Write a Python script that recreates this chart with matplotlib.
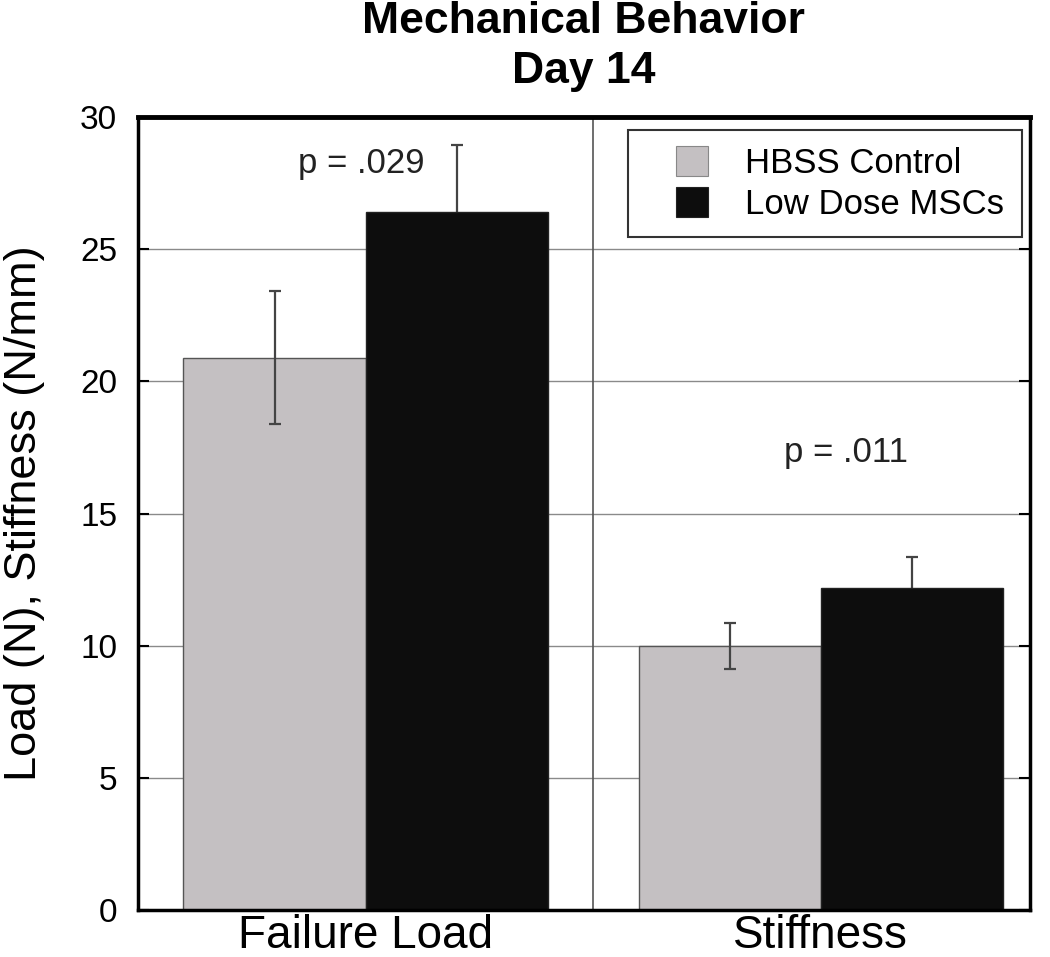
import numpy as np
import matplotlib
matplotlib.use("Agg")
import matplotlib.pyplot as plt
from matplotlib.patches import Patch, Rectangle

plt.rcParams['font.family'] = ['Liberation Sans', 'DejaVu Sans']

# data
categories = ['Failure Load', 'Stiffness']
groups = ['HBSS Control', 'Low Dose MSCs']
control_mean = [20.9, 9.98]
control_err = [2.5, 0.87]
msc_mean = [26.4, 12.2]
msc_err = [2.55, 1.15]
p_labels = ['p = .029', 'p = .011']
p_x = [-0.01, 1.055]
p_heights = [28.25, 17.3]

gray = '#c4c0c2'
black = '#0d0d0d'

x = np.arange(len(categories))
w = 0.4

fig = plt.figure(figsize=(10.5, 9.57), dpi=100)
ax = fig.add_axes([0.1314, 0.0491, 0.8496, 0.8286])

# grid
for yv in [5, 10, 15, 20, 25]:
    ax.axhline(yv, color='#8a8a8a', lw=1.0, zorder=0)
ax.axvline(0.5, color='#555555', lw=1.2, zorder=0)

ax.bar(x - w/2, control_mean, w, color=gray, edgecolor='#555555', lw=1.0, zorder=2)
ax.bar(x + w/2, msc_mean, w, color=black, edgecolor='#222222', lw=1.0, zorder=2)
ax.errorbar(x - w/2, control_mean, yerr=control_err, fmt='none', ecolor='#444444',
            elinewidth=1.6, capsize=4, capthick=1.6, zorder=3)
ax.errorbar(x + w/2, msc_mean, yerr=msc_err, fmt='none', ecolor='#444444',
            elinewidth=1.6, capsize=4, capthick=1.6, zorder=1.5)

for xi, lab, h in zip(p_x, p_labels, p_heights):
    ax.text(xi, h, lab, ha='center', va='center', fontsize=25, color='#222222')

ax.set_xlim(-0.5, 1.46)
ax.set_ylim(0, 30)
ax.set_yticks([0, 5, 10, 15, 20, 25, 30])
ax.tick_params(axis='y', direction='in', length=8, width=1.5, labelsize=24,
               right=True, pad=15)
ax.set_xticks(x)
ax.set_xticklabels(categories, fontsize=33)
ax.tick_params(axis='x', length=0, pad=3)
for s in ax.spines.values():
    s.set_linewidth(2.5)
ax.spines['top'].set_linewidth(3.5)
ax.set_ylabel('Load (N), Stiffness (N/mm)', fontsize=32.5)
ax.yaxis.set_label_coords(-0.104, 0.5)

# title, two lines centred over the axes
fig.text(0.556, 0.9655, 'Mechanical Behavior', ha='center', va='baseline',
         fontsize=32, fontweight='bold')
fig.text(0.556, 0.9133, 'Day 14', ha='center', va='baseline',
         fontsize=32, fontweight='bold')

# legend box
ax.add_patch(Rectangle((0.549, 0.8487), 0.4417, 0.135, transform=ax.transAxes,
                       facecolor='white', edgecolor='#333333', lw=1.5, zorder=4))
handles = [Patch(facecolor=gray, edgecolor='#888888', lw=0.8),
           Patch(facecolor=black, edgecolor='#222222', lw=0.8)]
leg = ax.legend(handles, groups, loc='center', bbox_to_anchor=(0.787, 0.916),
                fontsize=25, frameon=False, handlelength=0.9, handleheight=0.95,
                handletextpad=1.07, labelspacing=0.2, borderpad=0)
leg.set_zorder(5)

fig.savefig('out.png', dpi=100)
